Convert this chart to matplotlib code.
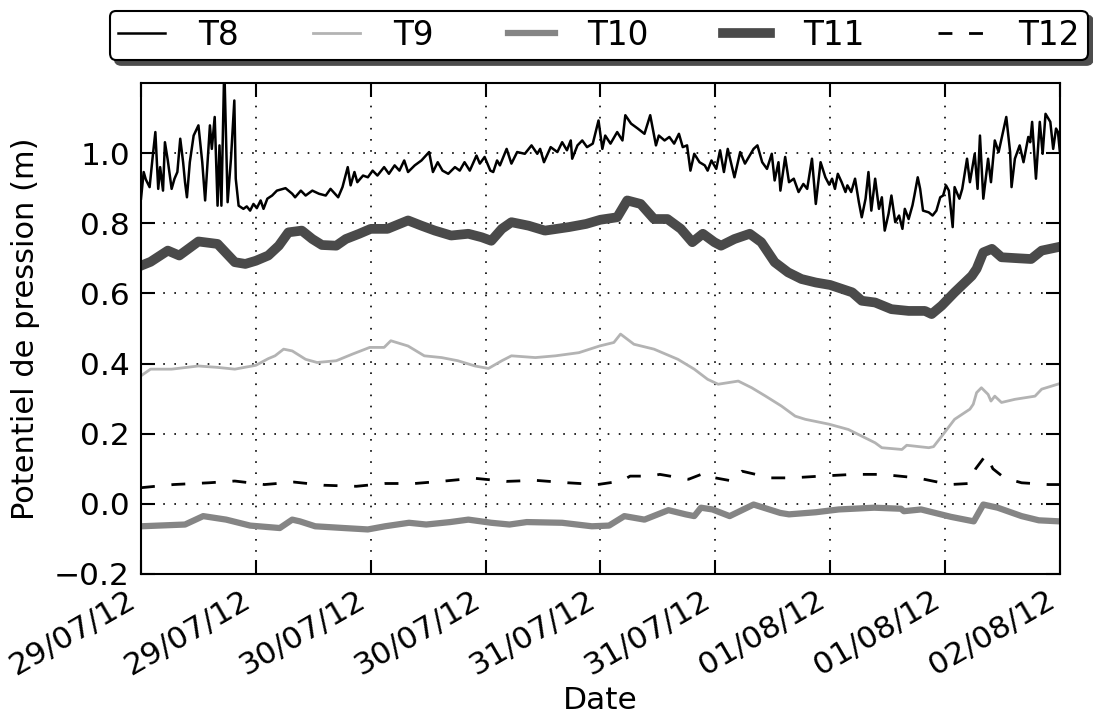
import numpy as np
import pandas as pd
import matplotlib
matplotlib.use('Agg')
import matplotlib.pyplot as plt
import matplotlib.dates as mdates

plt.rcParams['font.family'] = 'DejaVu Sans'
plt.rcParams['lines.scale_dashes'] = False

# hours since 29/07/12 00:00 and pressure head (m)
t8_h = [0, .28, .5, .9, 1.2, 1.5, 1.8, 2.0, 2.3, 2.5, 2.8, 3.2, 3.5, 3.8, 4.1, 4.4, 4.6, 4.8,
        5.1, 5.5, 6.0, 6.4, 6.7, 7.2, 7.4, 7.7, 8.0, 8.2, 8.4, 8.7, 9.05, 9.4, 9.75, 9.9,
        10.2, 10.7, 11.05, 11.4, 11.75, 12.1, 12.5, 12.8, 13.2, 13.7, 14.2, 15.1, 15.8,
        16.1, 16.7, 17.2, 17.9, 18.6, 19.3, 19.8, 20.6, 21.05, 21.6, 21.9, 22.3, 22.6,
        23.2, 23.7, 24.2, 24.7, 25.4, 25.9, 26.5, 27.0, 27.5, 27.9, 28.6, 29.3, 30.1,
        30.5, 31.0, 31.5, 32.1, 32.8, 33.3, 33.8, 34.35, 35.05, 35.4, 35.9, 36.5, 36.8,
        37.2, 37.5, 38.2, 38.7, 39.3, 40.1, 40.8, 41.4, 41.7, 42.1, 42.8, 43.5, 44.0,
        44.5, 44.9, 45.05, 45.6, 46.1, 46.6, 47.2, 47.8, 48.2, 48.5, 49.05, 49.75, 50.3,
        50.6, 51.2, 51.9, 52.6, 53.2, 53.8, 54.1, 54.7, 55.2, 55.7, 56.2, 56.6, 57.05,
        57.4, 57.8, 58.35, 58.9, 59.2, 59.6, 60.1, 60.5, 60.9, 61.3, 62.0, 62.6, 63.1,
        64.0, 64.4, 64.9, 65.4, 65.9, 66.2, 66.6, 66.8, 67.3, 67.7, 68.2, 68.7, 69.2,
        69.6, 70.1, 70.5, 71.0, 71.5, 71.9, 72.2, 72.5, 72.8, 73.2, 73.6, 73.8, 74.2,
        74.6, 75.0, 75.3, 75.7, 76.0, 76.3, 76.7, 77.1, 77.4, 77.7, 78.1, 78.4, 78.8,
        79.2, 79.55, 79.8, 80.2, 80.6, 80.8, 81.15, 81.4, 81.7, 82.3, 82.7, 83.1, 83.5,
        83.8, 84.1, 84.4, 84.8, 85.0, 85.5, 85.8, 86.3, 86.6, 87.1, 87.4, 87.65, 88.0,
        88.5, 88.8, 89.2, 89.6, 90.4, 90.8, 90.95, 91.3, 91.8, 92.2, 92.7, 92.9, 93.1,
        93.5, 93.9, 94.2, 94.5, 95.0, 95.3, 95.6, 95.8, 96.0]
t8 = [.870, .946, .925, .903, .984, 1.06, .898, .96, .893, 1.031, .979, .898, .927, .946,
      1.041, .974, .917, .874, .974, 1.05, 1.079, .974, .865, 1.079, 1.012, 1.103, .850,
      1.022, .850, 1.25, .860, .984, 1.150, .927, .850, .841, .848, .836, .855, .843,
      .865, .841, .870, .879, .893, .900, .884, .874, .893, .879, .893, .884, .879, .898,
      .874, .903, .960, .908, .946, .917, .936, .931, .950, .936, .960, .941, .965, .950,
      .979, .946, .965, .979, 1.003, .946, .974, .950, .941, .960, .950, .974, .950, .993,
      .970, .989, .950, .946, .979, .965, 1.012, .970, 1.003, .998, 1.022, .998, 1.012,
      .974, 1.017, 1.003, 1.031, 1.008, 1.036, .984, 1.022, 1.036, 1.017, 1.027, 1.093,
      1.012, 1.050, 1.027, 1.060, 1.036, 1.108, 1.084, 1.07, 1.055, 1.108, 1.022, 1.050,
      1.036, 1.046, 1.027, 1.055, 1.017, 1.022, .950, .998, .974, .965, .950, .979, .955,
      1.008, .946, 1.012, .931, 1.003, .970, 1.012, 1.022, .974, .955, .998, .922, .974,
      .893, .989, .917, .927, .889, .912, .898, .984, .855, .974, .931, .910, .927, .898,
      .941, .917, .889, .908, .889, .927, .860, .817, .870, .946, .836, .927, .841, .874,
      .779, .827, .879, .803, .822, .784, .841, .812, .851, .879, .931, .898, .836, .831,
      .822, .836, .874, .879, .908, .893, .789, .903, .870, .898, .984, .917, .998, .898,
      1.050, .870, .984, .917, 1.036, 1.003, 1.103, 1.003, .903, .984, 1.022, .974, 1.046,
      1.031, 1.089, .927, 1.089, .998, 1.112, 1.089, 1.012, 1.070, 1.060, 1.003]

t9_h = [0, 1, 3.2, 6, 8, 9.8, 12, 13.3, 14, 14.9, 15.8, 17.2, 18.4, 20.4, 22.1, 23.9, 25.4,
        26.1, 27.9, 29.6, 31.4, 33.1, 34.9, 36.3, 37.7, 38.7, 41.2, 43.3, 45.75, 47.9,
        49.4, 50.1, 51.5, 53.6, 56.1, 57.8, 59.2, 60.3, 62.4, 63.8, 65.2, 66.9, 68.35,
        69.4, 71.9, 73.9, 75.3, 76.7, 77.4, 79.5, 80, 82.3, 82.8, 83.8, 85, 86.6, 86.95,
        87.3, 87.8, 88.5, 88.8, 89.2, 89.9, 91.3, 93.4, 94.1, 96]
t9 = [.365, .384, .384, .393, .389, .384, .395, .414, .422, .441, .436, .412, .403, .408,
      .427, .446, .446, .465, .450, .422, .417, .408, .393, .386, .408, .422, .417, .422,
      .431, .450, .460, .484, .455, .441, .412, .384, .355, .341, .350, .331, .308, .279,
      .250, .241, .227, .212, .193, .174, .160, .155, .167, .160, .163, .198, .241, .270,
      .284, .317, .331, .312, .293, .307, .289, .298, .307, .327, .343]

t10_h = [0, 4.6, 6.5, 8.9, 11.4, 14.5, 15.8, 16.6, 18.2, 21.2, 23.7, 25.5, 28, 29.8, 32.3,
         34.2, 36.6, 38.5, 40.3, 44, 47.1, 48.9, 50.5, 52.6, 55.1, 56.9, 57.8, 58.5, 59.7,
         61.5, 64, 66.8, 67.7, 70.5, 72.9, 76.6, 79.4, 79.7, 81.5, 84.6, 87, 88, 89.5, 92,
         93.8, 96]
t10 = [-.064, -.059, -.035, -.045, -.062, -.069, -.045, -.050, -.064, -.069, -.073, -.064,
       -.054, -.059, -.052, -.045, -.054, -.059, -.052, -.054, -.064, -.062, -.035, -.045,
       -.018, -.030, -.035, -.011, -.016, -.035, -.002, -.026, -.030, -.024, -.016, -.011,
       -.014, -.021, -.016, -.037, -.050, -.002, -.011, -.035, -.047, -.050]

t11_h = [0, 1, 2.8, 4, 6, 8, 9.8, 10.9, 12, 13.3, 14.4, 15.4, 16.8, 17.9, 18.9, 20.4, 21.4,
         22.8, 24, 25.75, 27.9, 29.3, 30.7, 32.4, 34.2, 35.6, 36.6, 37.7, 38.7, 40.5,
         42.2, 44.7, 46.5, 48, 49.75, 50.8, 52.2, 53.6, 55, 56.4, 57.6, 58.7, 59.9, 60.6,
         62, 63.6, 64.8, 66.2, 67.6, 69, 70.5, 72, 74.3, 75.3, 76.7, 78.4, 80.2, 81.9,
         82.6, 83.65, 85, 86.8, 87.3, 88, 88.9, 89.9, 91.7, 93, 94.1, 96]
t11 = [.679, .690, .722, .708, .748, .741, .689, .684, .693, .708, .736, .774, .779, .755,
       .738, .736, .755, .770, .784, .784, .808, .793, .779, .765, .770, .760, .750, .784,
       .803, .793, .779, .789, .798, .810, .817, .865, .855, .812, .812, .784, .746, .770,
       .746, .736, .755, .770, .746, .689, .660, .641, .631, .624, .603, .579, .574, .555,
       .550, .550, .541, .565, .603, .650, .670, .717, .727, .703, .700, .698, .722, .733]

t12_h = [0, 3.4, 7.1, 9.8, 12.9, 16, 19.1, 22.5, 25.5, 28.6, 31.7, 34.8, 38.2, 41.2, 44.6,
         47.7, 50.2, 51.1, 53.2, 54.2, 57.2, 59, 60, 61.8, 62.8, 65.8, 68, 71, 74.4, 77.4,
         81.1, 84.5, 86.5, 87.2, 88.3, 89.0, 90.2, 92, 94.8, 96]
t12 = [.046, .055, .060, .065, .055, .062, .053, .050, .058, .058, .065, .073, .064, .067,
       .060, .055, .065, .079, .079, .084, .070, .089, .074, .065, .093, .074, .074, .079,
       .084, .084, .074, .055, .058, .100, .140, .100, .074, .060, .055, .055]

start = pd.Timestamp('2012-07-29 00:00')


def to_dates(hours):
    return start + pd.to_timedelta(hours, unit='h')


fig = plt.figure(figsize=(10.93, 7.2), dpi=100)
ax = fig.add_axes([0.129, 0.2028, 0.8407, 0.682])

ax.plot(to_dates(t8_h), t8, color='k', lw=1.8, label='T8')
ax.plot(to_dates(t9_h), t9, color='#b3b3b3', lw=2, label='T9')
ax.plot(to_dates(t10_h), t10, color='#858585', lw=4.5, label='T10')
ax.plot(to_dates(t11_h), t11, color='#4a4a4a', lw=7, label='T11')
ax.plot(to_dates(t12_h), t12, color='k', lw=2, dashes=(10, 12), label='T12')

ax.set_xlim(start, to_dates(96))
ax.set_ylim(-0.2, 1.2)
ax.set_yticks(np.arange(-0.2, 1.01, 0.2))
ax.xaxis.set_major_locator(mdates.HourLocator(byhour=[0, 12]))
ax.xaxis.set_major_formatter(mdates.DateFormatter('%d/%m/%y'))

ax.grid(True, color='k', linestyle=(0, (1.2, 6.8)), linewidth=1.2)
ax.tick_params(direction='in', top=True, right=True, length=10, width=1.5,
               labelsize=22.5, pad=8)
for s in ax.spines.values():
    s.set_linewidth(1.5)
for lab in ax.get_xticklabels():
    lab.set_rotation(30)
    lab.set_ha('right')

ax.set_xlabel('Date', fontsize=22.5)
ax.set_ylabel('Potentiel de pression (m)', fontsize=22, labelpad=10)

leg = ax.legend(ncol=5, loc='lower left', bbox_to_anchor=(0.1006, 0.9167, 0.8948, 0.07),
                bbox_transform=fig.transFigure, mode='expand', borderaxespad=0,
                fontsize=23.5, fancybox=True, framealpha=1, edgecolor='k',
                borderpad=0.25, handlelength=1.45, handletextpad=1.0,
                shadow={'ox': 3.5, 'oy': -3.5, 'color': '0.3', 'alpha': 1})
leg.get_frame().set_linewidth(1.5)

fig.savefig('out.png', dpi=100)
